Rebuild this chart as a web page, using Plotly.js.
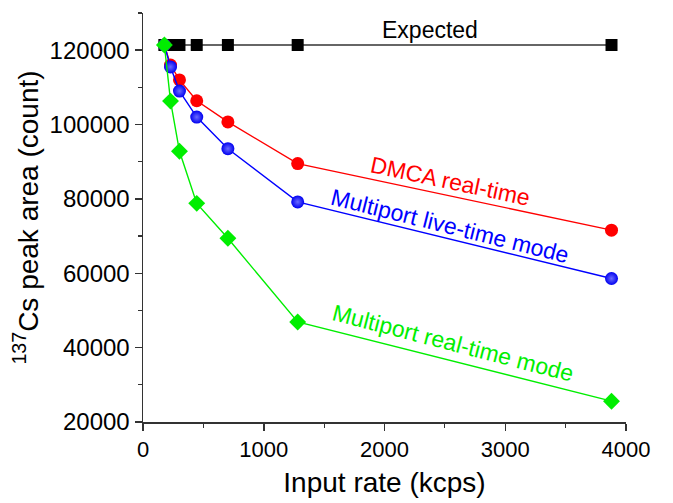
<!DOCTYPE html>
<html>
<head>
<meta charset="utf-8">
<script src="https://cdn.plot.ly/plotly-3.0.1.min.js"></script>
<style>
  html, body { margin: 0; padding: 0; background: #fff; }
  #chart { width: 673px; height: 503px; }
</style>
</head>
<body>
<div id="chart"></div>
<script>
// Input rate (kcps) shared by all measurement series
const inputRate = [177, 228, 302, 445, 703, 1281, 3880];

// 137Cs peak area (count)
const expected      = [121400, 121400, 121400, 121400, 121400, 121400, 121400];
const dmcaRealTime  = [121400, 116000, 112000, 106400, 100700, 89500, 71600];
const mpLiveTime    = [121400, 115500, 109000, 102000, 93500, 79200, 58600];
const mpRealTime    = [121400, 106300, 92800, 78800, 69400, 46900, 25600];

const xTicks = [0, 1000, 2000, 3000, 4000];
const yTicks = [20000, 40000, 60000, 80000, 100000, 120000];

const FONT = 'Arial, "Liberation Sans", sans-serif';

const traces = [
  {
    x: inputRate, y: expected, mode: 'lines+markers', name: 'Expected',
    line: { color: '#333', width: 1.4 },
    marker: { symbol: 'square', size: 12, color: '#000' }
  },
  {
    x: inputRate, y: dmcaRealTime, mode: 'lines+markers', name: 'DMCA real-time',
    line: { color: '#ff0000', width: 1.4 },
    marker: { symbol: 'circle', size: 13, color: '#ff0000' }
  },
  {
    x: inputRate, y: mpLiveTime, mode: 'lines+markers', name: 'Multiport live-time mode',
    line: { color: '#0000ff', width: 1.4 },
    marker: { symbol: 'circle', size: 13, color: '#0000f0',
              gradient: { type: 'radial', color: '#6a6aff' } }
  },
  {
    x: inputRate, y: mpRealTime, mode: 'lines+markers', name: 'Multiport real-time mode',
    line: { color: '#00ee00', width: 1.4 },
    marker: { symbol: 'diamond', size: 13, color: '#00ee00' }
  }
];

const labelFont = (c) => ({ family: FONT, size: 23, color: c });

const layout = {
  width: 673, height: 503,
  margin: { l: 143, r: 47, t: 13, b: 81, pad: 0 },
  paper_bgcolor: '#fff', plot_bgcolor: '#fff',
  showlegend: false,
  font: { family: FONT, color: '#000' },
  xaxis: {
    range: [0, 4000], tickvals: xTicks, ticktext: xTicks.map(String),
    showgrid: false, zeroline: false,
    showline: true, linecolor: '#333', linewidth: 1.5,
    ticks: 'outside', ticklen: 7, tickwidth: 1.5, tickcolor: '#333',
    minor: { dtick: 500, ticks: 'outside', ticklen: 4, tickwidth: 1.2, tickcolor: '#333', showgrid: false },
    tickfont: { family: FONT, size: 22, color: '#000' },
    title: { text: 'Input rate (kcps)', font: { family: FONT, size: 28, color: '#000' }, standoff: 11 }
  },
  yaxis: {
    range: [20000, 130000], tickvals: yTicks, ticktext: yTicks.map(String),
    showgrid: false, zeroline: false,
    showline: true, linecolor: '#333', linewidth: 1.5,
    ticks: 'outside', ticklen: 7, tickwidth: 1.5, tickcolor: '#333',
    minor: { dtick: 10000, ticks: 'outside', ticklen: 4, tickwidth: 1.2, tickcolor: '#333', showgrid: false },
    tickfont: { family: FONT, size: 24, color: '#000' },
    title: { text: '<sup>137</sup>Cs peak area (count)', font: { family: FONT, size: 28, color: '#000' }, standoff: 3 }
  },
  annotations: [
    { x: 2380, y: 125400, xref: 'x', yref: 'y', text: 'Expected', showarrow: false,
      font: labelFont('#000') },
    { x: 2540, y: 84700, xref: 'x', yref: 'y', text: 'DMCA real-time', showarrow: false,
      textangle: 12, font: labelFont('#ff0000') },
    { x: 2545, y: 72800, xref: 'x', yref: 'y', text: 'Multiport live-time mode', showarrow: false,
      textangle: 14, font: labelFont('#0000ff') },
    { x: 2567, y: 41200, xref: 'x', yref: 'y', text: 'Multiport real-time mode', showarrow: false,
      textangle: 14.5, font: labelFont('#00ee00') }
  ]
};

Plotly.newPlot('chart', traces, layout, { staticPlot: true, displayModeBar: false });
</script>
</body>
</html>
